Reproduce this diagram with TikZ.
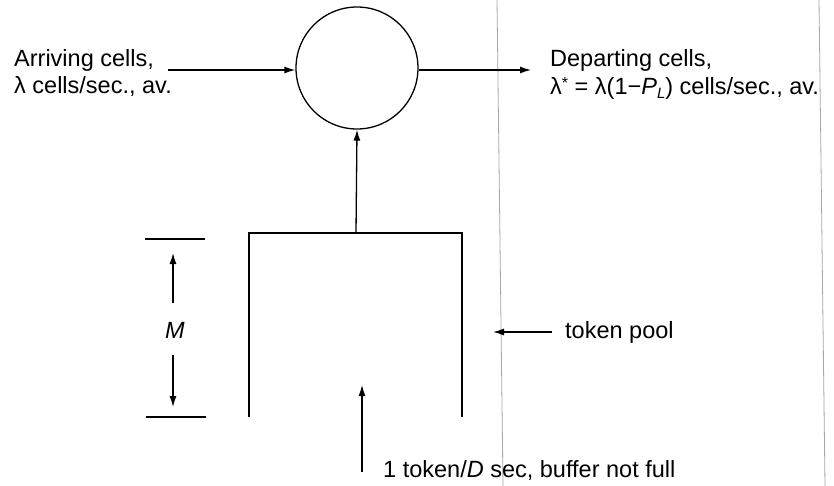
\documentclass[tikz,border=0pt]{standalone}
\usepackage{fontspec}
\setmainfont{Liberation Sans}
\usetikzlibrary{arrows.meta}
\begin{document}
\begin{tikzpicture}[x=1pt,y=-1pt,
  line/.style={line width=1.3pt},
  arr/.style={line width=1.3pt,-{Latex[length=11pt,width=7pt]}},
  lbl/.style={inner sep=0pt,anchor=base west,font=\fontsize{23.5}{28}\selectfont},
  crease/.style={line width=0.8pt,black!35}]
\useasboundingbox (0,0) rectangle (834,486);
% faint vertical creases on the page
\draw[crease] (497,0) -- (503,486);
\draw[crease] (819,0) -- (825,486);

% server
\node[draw,circle,line width=1.3pt,minimum size=122pt,inner sep=0pt] (srv) at (357,68) {};

% arrivals and departures
\node[lbl] (arr1) at (14,67) {Arriving cells,};
\node[lbl] (arr2) at (14,94) {λ cells/sec., av.};
\node[lbl] (dep1) at (550,67) {Departing cells,};
\node[lbl] (dep2) at (550,95) {λ\raisebox{0.55ex}{\fontsize{16}{16}\selectfont *} = λ(1−\textit{P}\raisebox{-0.3ex}{\fontsize{15}{15}\selectfont\itshape L}) cells/sec., av.};
\coordinate (in) at (168,70);
\coordinate (out) at (531,70);
\draw[arr] (in) -- (srv.west |- in);
\draw[arr] (srv.east |- out) -- (out);

% token pool
\coordinate (bl) at (249,417);
\coordinate (tl) at (249,233);
\coordinate (tr) at (462,233);
\coordinate (br) at (462,417);
\coordinate (btop) at (356,233);
\draw[line] (bl) -- (tl) -- (tr) -- (br);
\draw[arr] (btop) -- (srv.south);

% pool size M
\draw[line] (145,239) -- (205,239);
\draw[line] (146,417) -- (206,417);
\node[lbl,anchor=center,font=\fontsize{23.5}{28}\selectfont\itshape] (m) at (175,330) {M};
\coordinate (mup) at (173,253);
\coordinate (mdn) at (173,407);
\draw[arr] (173,303) -- (mup);
\draw[arr] (173,355) -- (mdn);

% label for the pool
\node[lbl,anchor=west] (pool) at (565,332) {token pool};
\coordinate (poolend) at (493,332);
\draw[arr] ([xshift=-13pt]pool.west) -- (poolend);

% token generation
\node[lbl] (tok) at (383,477) {1 token/\textit{D} sec, buffer not full};
\coordinate (tokin) at (362,472);
\coordinate (tokend) at (362,385);
\draw[arr] (tokin) -- (tokend);
\end{tikzpicture}
\end{document}
